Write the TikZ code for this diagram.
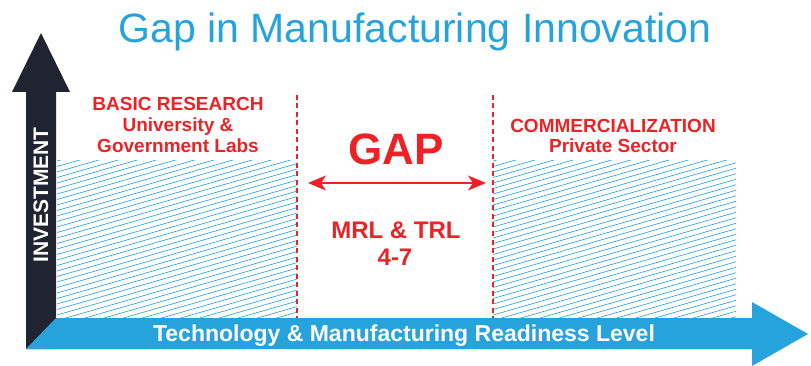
\documentclass[tikz,border=0pt]{standalone}
\usepackage{fontspec}
\setmainfont{Liberation Sans}
\usetikzlibrary{arrows.meta}
\definecolor{gapblue}{HTML}{27A3DC}
\definecolor{gapdark}{HTML}{1F2430}
\definecolor{gapred}{HTML}{EC2227}

\begin{document}
\begin{tikzpicture}[x=1pt,y=-1pt,
  redlabel/.style={text=gapred,font=\fontsize{19}{21}\selectfont\bfseries,anchor=base,inner sep=0pt},
  biglabel/.style={redlabel,font=\fontsize{24}{26}\selectfont\bfseries},
  hatchline/.style={gapblue,line width=0.65pt},
  gapline/.style={gapred,line width=1.8pt,dash pattern=on 5pt off 3.5pt}]
  \useasboundingbox (0,0) rectangle (811,366);
  % hatched zones
  \foreach \xa/\xb in {57/297,493/736}{
    \begin{scope}
      \clip (\xa,161) rectangle (\xb,318);
      \foreach \k in {0,...,43}
        \draw[hatchline] (\xa,161+5.5*\k) -- (\xb,{161+5.5*\k-0.287*(\xb-\xa)});
    \end{scope}
  }
  % borders of the gap
  \coordinate (gapTL) at (297,95);
  \coordinate (gapBL) at (297,318);
  \coordinate (gapTR) at (493,95);
  \coordinate (gapBR) at (493,318);
  \draw[gapline] (gapTL) -- (gapBL);
  \draw[gapline] (gapTR) -- (gapBR);
  % axes
  \fill[gapdark] (26,349) -- (26,92) -- (12,92) -- (41,33) -- (70,92) -- (56,92) -- (56,349) -- cycle;
  \fill[gapblue] (26,349) -- (56,318) -- (752,318) -- (752,302) -- (808,334) -- (752,366) -- (752,349) -- cycle;
  \node[text=white,font=\fontsize{21}{21}\selectfont\bfseries,rotate=90] (invest) at (41,195) {INVESTMENT};
  \node[text=white,font=\fontsize{23}{23}\selectfont\bfseries,anchor=base,inner sep=0pt] (trl) at (404,341) {Technology \& Manufacturing Readiness Level};
  % title
  \node[text=gapblue,font=\fontsize{41}{41}\selectfont,anchor=base,inner sep=0pt] (title) at (415,43) {Gap in Manufacturing Innovation};
  % labels
  \node[redlabel] (basic) at (178,111) {BASIC RESEARCH};
  \node[redlabel] (univ) at (178,132) {University \&};
  \node[redlabel] (labs) at (178,153) {Government Labs};
  \node[redlabel] (comm) at (613,133) {COMMERCIALIZATION};
  \node[redlabel] (private) at (613,153) {Private Sector};
  \node[redlabel,font=\fontsize{44}{44}\selectfont\bfseries] (gap) at (396,165) {GAP};
  \coordinate (gapstart) at (308,183);
  \coordinate (gapend) at (486,183);
  \draw[gapred,line width=1.5pt,{Stealth[length=18pt,width=15pt,inset=5pt]}-{Stealth[length=18pt,width=15pt,inset=5pt]}] (gapstart) -- (gapend);
  \node[biglabel] (mrl) at (396,239) {MRL \& TRL};
  \node[biglabel] (levels) at (395,265) {4-7};
\end{tikzpicture}
\end{document}
